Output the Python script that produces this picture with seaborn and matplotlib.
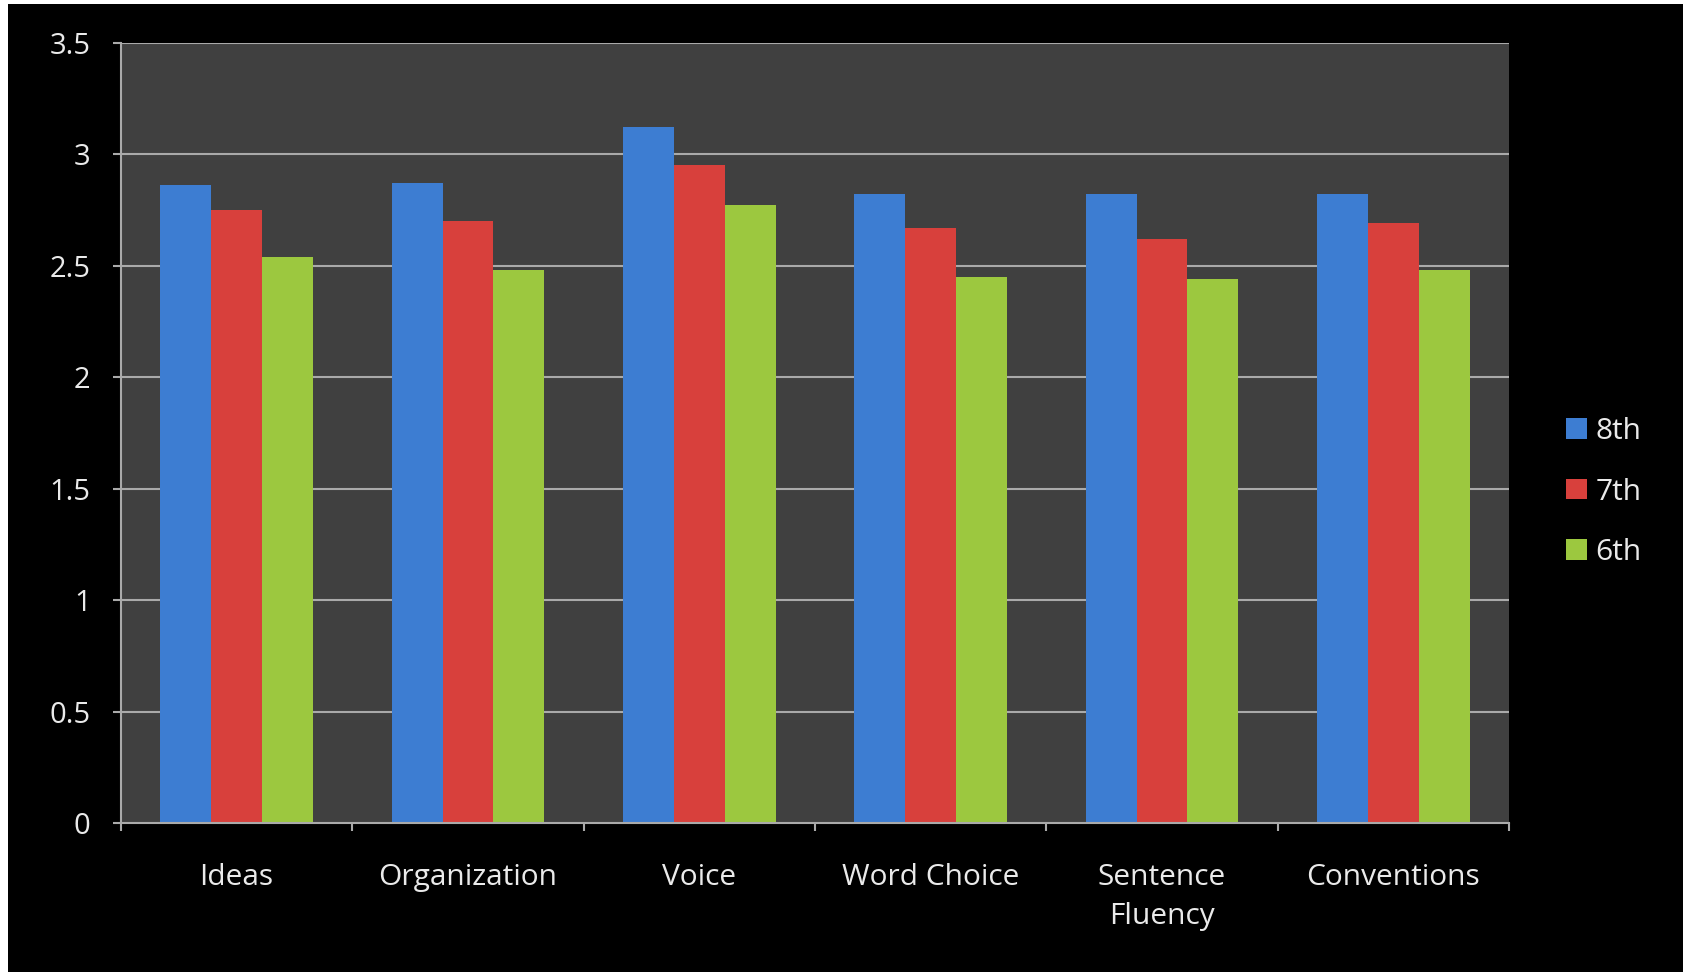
import matplotlib
matplotlib.use("Agg")
import matplotlib.pyplot as plt
import matplotlib.patches as mpatches
import seaborn as sns
import pandas as pd
import numpy as np

categories = ["Ideas", "Organization", "Voice", "Word Choice", "Sentence\nFluency", "Conventions"]
grades = ["8th", "7th", "6th"]
vals_8th = [2.86, 2.87, 3.12, 2.82, 2.82, 2.82]
vals_7th = [2.75, 2.70, 2.95, 2.67, 2.62, 2.69]
vals_6th = [2.54, 2.48, 2.77, 2.45, 2.44, 2.48]
yticks = [0, 0.5, 1, 1.5, 2, 2.5, 3, 3.5]
ytick_labels = ["0", "0.5", "1", "1.5", "2", "2.5", "3", "3.5"]
colors = ["#3D7DD2", "#D8403C", "#9CC83F"]

df = pd.DataFrame({
    "category": categories * 3,
    "grade": [g for g in grades for _ in categories],
    "value": vals_8th + vals_7th + vals_6th,
})

sns.set_theme(style="dark")
plt.rcParams["font.family"] = ["Open Sans", "DejaVu Sans"]

W, H = 1684, 972
fig = plt.figure(figsize=(W / 100, H / 100), dpi=100, facecolor="white")
# black chart area (with thin white margin on left/top like the reference)
bg = mpatches.Rectangle((8 / W, 0), 1 - 9 / W, 1 - 4 / H,
                        transform=fig.transFigure, facecolor="black",
                        edgecolor="none", zorder=-10)
fig.patches.append(bg)

ax = fig.add_axes([121 / W, 1 - 823 / H, (1509 - 121) / W, (823 - 42.7) / H])
ax.set_zorder(1)
ax.set_facecolor("#404040")

sns.barplot(data=df, x="category", y="value", hue="grade", hue_order=grades,
            order=categories, palette=colors, width=0.66, gap=0,
            saturation=1, ax=ax, legend=False, linewidth=0, zorder=3)

ax.set_ylim(0, 3.5)
ax.set_xlim(-0.5, len(categories) - 0.5)
ax.set_yticks(yticks)
ax.set_yticklabels(ytick_labels)
ax.set_xlabel("")
ax.set_ylabel("")

grid_c = "#AAAAAA"
ax.grid(False)
for y in yticks[1:]:
    ax.axhline(y, color=grid_c, lw=1.5, zorder=1)

for s in ["top", "right"]:
    ax.spines[s].set_visible(False)
for s in ["left", "bottom"]:
    ax.spines[s].set_visible(True)
    ax.spines[s].set_color(grid_c)
    ax.spines[s].set_linewidth(1.5)
    ax.spines[s].set_zorder(4)

ax.tick_params(axis="y", colors=grid_c, length=6, width=1.5, pad=16,
               labelsize=21, labelcolor="#EAEAEA", left=True)
ax.tick_params(axis="x", which="major", length=0, pad=29, labelsize=21.5,
               labelcolor="#EAEAEA")
ax.set_xticks(np.arange(-0.5, len(categories), 1.0), minor=True)
ax.tick_params(axis="x", which="minor", length=6, width=1.5, colors=grid_c,
               bottom=True, direction="out")
for lab in ax.get_xticklabels():
    lab.set_linespacing(1.45)

handles = [mpatches.Patch(facecolor=c, edgecolor="none") for c in colors]
leg = fig.legend(handles, grades, loc="center left",
                 bbox_to_anchor=(1539 / W, 1 - 492 / H), frameon=False,
                 fontsize=21.5, labelcolor="#EAEAEA", handlelength=0.7,
                 handleheight=0.7, handletextpad=0.3, labelspacing=1.05)

fig.savefig("out.png", dpi=100, facecolor=fig.get_facecolor())
